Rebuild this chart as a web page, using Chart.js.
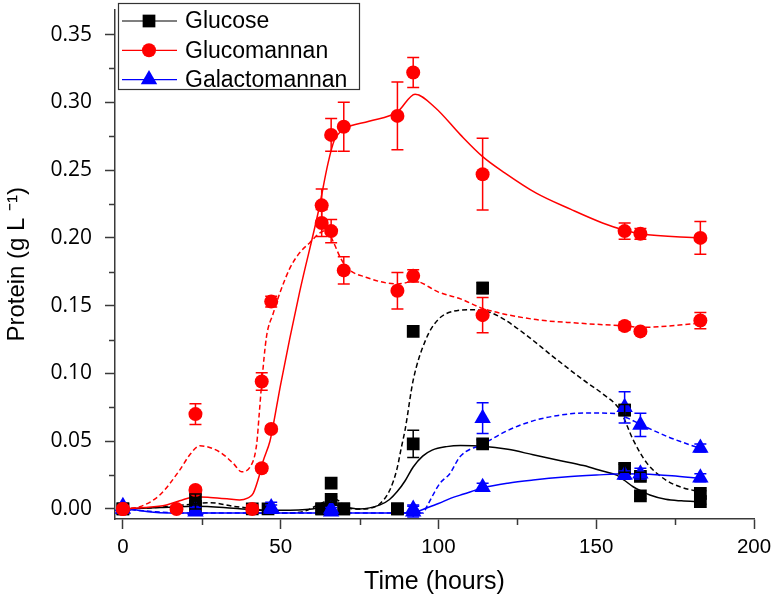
<!DOCTYPE html>
<html>
<head>
<meta charset="utf-8">
<script src="https://cdn.jsdelivr.net/npm/chart.js@4.4.1/dist/chart.umd.min.js"></script>
<style>
  html, body { margin: 0; padding: 0; background: #fff; }
  #wrap { width: 771px; height: 602px; position: relative; }
</style>
</head>
<body>
<div id="wrap"><canvas id="proteinChart"></canvas></div>
<script>
// ---- measured points (time in hours, protein in g/L) ----
// each substrate has two replicate sets; set A goes with the solid fit, set B with the dashed fit
const glcTimeA = [0, 23, 41, 63, 66, 70, 87, 92, 114, 159, 164, 183];
const glcValA  = [0, 0.002, 0, 0, 0.007, 0, 0, 0.048, 0.048, 0.030, 0.0096, 0.0054];
const glcErrA  = [0, 0.002, 0, 0, 0.002, 0, 0, 0.010, 0.003, 0.003, 0.002, 0.002];
const glcTimeB = [0, 23, 46, 63, 66, 70, 87, 92, 114, 159, 164, 183];
const glcValB  = [0, 0.007, 0, 0, 0.019, 0, 0, 0.131, 0.163, 0.073, 0.024, 0.0115];
const glcErrB  = [0, 0.004, 0, 0, 0, 0, 0, 0, 0.004, 0.004, 0.003, 0.002];

const gmTimeA = [0, 17, 23, 44, 47, 63, 66, 70, 87, 92, 114, 159, 164, 183];
const gmValA  = [0, 0, 0.014, 0.030, 0.059, 0.224, 0.276, 0.282, 0.290, 0.322, 0.247, 0.205, 0.203, 0.200];
const gmErrA  = [0, 0.002, 0.002, 0.002, 0.002, 0.012, 0.012, 0.018, 0.025, 0.011, 0.0265, 0.006, 0.004, 0.012];
const gmTimeB = [0, 23, 41, 44, 47, 63, 66, 70, 87, 92, 114, 159, 164, 183];
const gmValB  = [0, 0.070, 0, 0.094, 0.153, 0.211, 0.205, 0.176, 0.161, 0.172, 0.143, 0.135, 0.131, 0.139];
const gmErrB  = [0, 0.0076, 0.003, 0.0065, 0.004, 0.010, 0.0085, 0.010, 0.0135, 0.0045, 0.013, 0.003, 0.002, 0.006];

const galTimeA = [0, 23, 47, 66, 92, 114, 159, 164, 183];
const galValA  = [0.002, -0.002, 0.001, -0.002, -0.002, 0.016, 0.025, 0.026, 0.023];
const galErrA  = [0, 0, 0.004, 0, 0.004, 0.003, 0.003, 0.004, 0.003];
const galTimeB = [0, 23, 47, 66, 92, 114, 159, 164, 183];
const galValB  = [0, -0.001, 0, 0, 0, 0.067, 0.075, 0.062, 0.045];
const galErrB  = [0, 0.002, 0.003, 0.001, 0.003, 0.0114, 0.0115, 0.0086, 0.003];

// ---- fitted curves ----
const glcFitT = [0, 12, 23, 35, 42, 50, 60, 66.7, 75, 81.5, 84.5, 87, 89.5, 92, 95, 98, 102.6, 107, 114, 122, 130, 138, 146, 152, 156.5, 159, 161.7, 164.5, 167, 172, 177, 183];
const glcFitV = [0, 0.001, 0.002, 0.0005, -0.0007, -0.001, 0, 0.003, 0, 0.003, 0.007, 0.013, 0.021, 0.031, 0.039, 0.0434, 0.046, 0.0468, 0.0463, 0.044, 0.040, 0.036, 0.032, 0.028, 0.025, 0.021, 0.0164, 0.013, 0.0103, 0.0071, 0.006, 0.0054];
const glcDashT = [0, 10, 20, 27.6, 35, 42, 50, 57, 61, 64, 66.7, 68.8, 71, 76, 81.5, 84.6, 86.8, 88.3, 89.4, 92, 96, 100, 105, 110, 115, 120, 128, 136, 146, 152, 157.5, 161.7, 166, 172.3, 177, 183];
const glcDashV = [0, 0.001, 0.003, 0.0046, 0.002, 0, -0.003, -0.002, 0.002, 0.0055, 0.0078, 0.0054, 0.0005, 0, 0.004, 0.014, 0.029, 0.046, 0.058, 0.095, 0.125, 0.140, 0.146, 0.147, 0.146, 0.141, 0.128, 0.113, 0.095, 0.085, 0.073, 0.051, 0.034, 0.021, 0.016, 0.0127];

const gmFitT = [0, 7, 13.8, 18, 23, 27.6, 33, 37, 39.5, 41.3, 43.4, 44.4, 46.6, 47.5, 50, 56, 62, 65, 67, 70, 78, 87, 92.6, 99, 107, 114, 121, 131, 142, 152, 159, 164, 183];
const gmFitV = [0, 0.001, 0.003, 0.006, 0.009, 0.0085, 0.0075, 0.0066, 0.008, 0.0115, 0.026, 0.035, 0.050, 0.060, 0.092, 0.160, 0.220, 0.255, 0.272, 0.280, 0.286, 0.293, 0.306, 0.296, 0.276, 0.260, 0.248, 0.233, 0.221, 0.211, 0.2056, 0.203, 0.200];
const gmDashT = [0, 5.4, 11.7, 18, 21.2, 24.4, 30.7, 35, 37.6, 40.3, 42.4, 43.2, 44, 45.5, 47.6, 50, 53, 56, 59.3, 62, 64.6, 66.7, 68.8, 71, 77, 87, 92.6, 100, 107, 114, 130, 145, 159, 164, 183];
const gmDashV = [0, 0.0017, 0.0103, 0.0287, 0.040, 0.0466, 0.042, 0.0336, 0.0275, 0.031, 0.048, 0.070, 0.093, 0.127, 0.144, 0.161, 0.178, 0.189, 0.1966, 0.203, 0.2056, 0.197, 0.186, 0.178, 0.171, 0.166, 0.168, 0.160, 0.155, 0.148, 0.140, 0.137, 0.135, 0.134, 0.137];

const galFitT = [0, 8, 15, 40, 70, 88, 93, 96, 100, 104, 108, 114, 122, 130, 140, 150, 159, 165, 174, 183];
const galFitV = [0.001, -0.002, -0.003, -0.003, -0.003, -0.003, -0.002, 0.0005, 0.004, 0.008, 0.011, 0.0155, 0.019, 0.0213, 0.0235, 0.025, 0.026, 0.0258, 0.0245, 0.0226];
const galDashT = [0, 10, 20, 50, 90, 95.2, 96.3, 100.5, 103.6, 106.8, 114.2, 122, 130, 138, 146, 156.5, 160, 164.4, 173, 183];
const galDashV = [0, -0.002, -0.003, -0.003, -0.003, -0.003, 0.0017, 0.019, 0.026, 0.0385, 0.048, 0.058, 0.065, 0.069, 0.0708, 0.0703, 0.067, 0.062, 0.053, 0.0446];

// ---- axes ----
const xTickVals = [0, 50, 100, 150, 200];
const xMinorVals = [25, 75, 125, 175];
const yTickVals = [0, 0.05, 0.10, 0.15, 0.20, 0.25, 0.30, 0.35];
const yMinorVals = [0.025, 0.075, 0.125, 0.175, 0.225, 0.275, 0.325];

const legendNames = ['Glucose', 'Glucomannan', 'Galactomannan'];
const BLACK = '#000000', RED = '#ff0000', BLUE = '#0000ff';
const AXIS = '#3a3a3a';

function toXY(times, vals) {
    return times.map((t, i) => ({ x: t, y: vals[i] }));
}

function pointSet(times, vals, errs, color, style, radius) {
    return {
        data: toXY(times, vals),
        errors: errs,
        showLine: false,
        pointStyle: style,
        pointRadius: radius,
        pointHoverRadius: radius,
        pointBackgroundColor: color,
        pointBorderColor: color,
        pointBorderWidth: 0,
        backgroundColor: color,
        borderColor: color
    };
}

function curveSet(times, vals, color, dashed) {
    return {
        data: toXY(times, vals),
        showLine: true,
        pointRadius: 0,
        pointHoverRadius: 0,
        borderColor: color,
        borderWidth: 1.5,
        borderDash: dashed ? [5, 3] : [],
        cubicInterpolationMode: 'monotone',
        fill: false
    };
}

// error bars drawn over the markers
const errorBars = {
    id: 'errorBars',
    afterDatasetsDraw(chart) {
        const ctx = chart.ctx;
        const xs = chart.scales.x, ys = chart.scales.y;
        chart.data.datasets.forEach((ds, i) => {
            if (!ds.errors) return;
            ctx.save();
            ctx.strokeStyle = ds.borderColor;
            ctx.lineWidth = 1.5;
            ds.data.forEach((p, j) => {
                const e = ds.errors[j];
                if (!e) return;
                const px = xs.getPixelForValue(p.x);
                const top = ys.getPixelForValue(p.y + e);
                const bot = ys.getPixelForValue(p.y - e);
                ctx.beginPath();
                ctx.moveTo(px, top); ctx.lineTo(px, bot);
                ctx.moveTo(px - 6, top); ctx.lineTo(px + 6, top);
                ctx.moveTo(px - 6, bot); ctx.lineTo(px + 6, bot);
                ctx.stroke();
            });
            ctx.restore();
        });
    }
};

// short minor ticks + legend box in the top left corner
const extras = {
    id: 'extras',
    afterDraw(chart) {
        const ctx = chart.ctx;
        const xs = chart.scales.x, ys = chart.scales.y;
        const area = chart.chartArea;
        ctx.save();
        ctx.strokeStyle = AXIS;
        ctx.lineWidth = 1.5;
        ctx.beginPath();
        yMinorVals.forEach(v => {
            const py = Math.round(ys.getPixelForValue(v)) + 0.5;
            ctx.moveTo(area.left - 6, py); ctx.lineTo(area.left, py);
        });
        xMinorVals.forEach(v => {
            const px = Math.round(xs.getPixelForValue(v)) + 0.5;
            ctx.moveTo(px, area.bottom); ctx.lineTo(px, area.bottom + 6);
        });
        ctx.stroke();

        // legend
        const box = { x: 118, y: 3, w: 241, h: 86 };
        ctx.fillStyle = '#fff';
        ctx.fillRect(box.x, box.y, box.w, box.h);
        ctx.strokeStyle = '#333';
        ctx.lineWidth = 1.2;
        ctx.strokeRect(box.x + 0.5, box.y + 0.5, box.w, box.h);
        const rows = [
            { color: BLACK, style: 'rect', r: 9 },
            { color: RED, style: 'circle', r: 7 },
            { color: BLUE, style: 'triangle', r: 9.5 }
        ];
        ctx.font = '23px "Liberation Sans", Arial, sans-serif';
        ctx.textBaseline = 'middle';
        rows.forEach((row, i) => {
            const cy = 21 + i * 29.3;
            ctx.strokeStyle = row.color;
            ctx.lineWidth = 1.2;
            ctx.beginPath();
            ctx.moveTo(122, cy); ctx.lineTo(177, cy);
            ctx.stroke();
            ctx.fillStyle = row.color;
            Chart.helpers.drawPoint(ctx, { pointStyle: row.style, radius: row.r, rotation: 0, borderWidth: 0 }, 149, cy);
            ctx.fillStyle = '#000';
            ctx.fillText(legendNames[i], 185, cy + 1);
        });
        ctx.restore();
    }
};

const datasets = [
    pointSet(gmTimeA, gmValA, gmErrA, RED, 'circle', 7),
    pointSet(gmTimeB, gmValB, gmErrB, RED, 'circle', 7),
    pointSet(galTimeA, galValA, galErrA, BLUE, 'triangle', 9.5),
    pointSet(galTimeB, galValB, galErrB, BLUE, 'triangle', 9.5),
    pointSet(glcTimeA, glcValA, glcErrA, BLACK, 'rect', 9),
    pointSet(glcTimeB, glcValB, glcErrB, BLACK, 'rect', 9),
    curveSet(gmFitT, gmFitV, RED, false),
    curveSet(gmDashT, gmDashV, RED, true),
    curveSet(galFitT, galFitV, BLUE, false),
    curveSet(galDashT, galDashV, BLUE, true),
    curveSet(glcFitT, glcFitV, BLACK, false),
    curveSet(glcDashT, glcDashV, BLACK, true)
];

const ctx = document.getElementById('proteinChart').getContext('2d');
new Chart(ctx, {
    type: 'scatter',
    data: { datasets: datasets },
    plugins: [errorBars, extras],
    options: {
        responsive: true,
        maintainAspectRatio: false,
        animation: false,
        layout: { padding: { left: 0, right: 17, top: 0, bottom: 0 } },
        plugins: { legend: { display: false }, tooltip: { enabled: false } },
        scales: {
            x: {
                type: 'linear',
                min: -2.5,
                max: 200,
                afterBuildTicks: scale => { scale.ticks = xTickVals.map(v => ({ value: v })); },
                afterFit: scale => {
                    scale.height = 83;
                    scale.paddingLeft = 0; scale.paddingRight = 0;
                },
                ticks: {
                    color: '#000',
                    padding: 6,
                    maxRotation: 0,
                    autoSkip: false,
                    font: { family: '"Liberation Sans", Arial, sans-serif', size: 20.5 },
                    callback: v => String(v)
                },
                grid: { drawOnChartArea: false, tickLength: 10, tickColor: AXIS, tickWidth: 1.5 },
                border: { color: AXIS, width: 1.5 },
                title: {
                    display: true,
                    text: 'Time (hours)',
                    color: '#000',
                    font: { family: '"Liberation Sans", Arial, sans-serif', size: 25 },
                    padding: { top: 0, bottom: 5 }
                }
            },
            y: {
                type: 'linear',
                min: -0.0074,
                max: 0.3685,
                afterBuildTicks: scale => { scale.ticks = yTickVals.map(v => ({ value: v })); },
                afterFit: scale => {
                    scale.width = 115;
                    scale.paddingTop = 0; scale.paddingBottom = 0;
                },
                ticks: {
                    color: '#000',
                    padding: 13,
                    font: { family: '"Open Sans", "Noto Sans", sans-serif', size: 21 },
                    callback: v => v.toFixed(2)
                },
                grid: { drawOnChartArea: false, tickLength: 10, tickColor: AXIS, tickWidth: 1.5 },
                border: { color: AXIS, width: 1.5 },
                title: {
                    display: true,
                    text: 'Protein (g L \u207B\u00B9)',
                    color: '#000',
                    font: { family: '"Liberation Sans", Arial, sans-serif', size: 24 },
                    padding: { top: 3, bottom: 0 }
                }
            }
        }
    }
});
</script>
</body>
</html>
